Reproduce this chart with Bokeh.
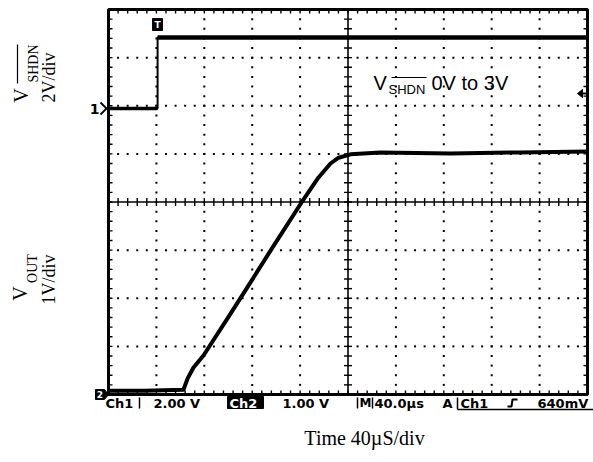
import math
from bokeh.plotting import figure
from bokeh.models import Range1d
from bokeh.embed import file_html
from bokeh.resources import INLINE
from bokeh.core.properties import value

# ---------------- data ----------------
time_per_div_us = 40
n_xdiv = 10
n_ydiv = 8
ch2_volts_per_div = 1
ch1_volts_per_div = 2

ch1_time_us = [0, 41, 41, 400]
ch1_volts = [0.0, 0.0, 2.95, 2.95]

ch2_time_us = [0, 30, 62.6, 66.0, 71.0, 79.3, 99.4, 118.6, 135.3, 161.2, 175.4, 185.4,
               192.1, 202.1, 227.1, 285.6, 344, 400]
ch2_volts = [0.08, 0.08, 0.10, 0.33, 0.56, 0.81, 1.58, 2.33, 2.99, 3.99, 4.51, 4.80,
             4.92, 4.99, 5.03, 5.01, 5.03, 5.05]

status_texts = ["Ch1", "2.00 V", "1.00 V", "40.0µs", "A", "Ch1", "640mV"]
ch2_box_text = "Ch2"
mode_text = "M"
note_main = "V"
note_sub = "SHDN"
note_rest = "0V to 3V"
left_top = ["V", "SHDN", "2V/div"]
left_bottom = ["V", "OUT", "1V/div"]
xlabel = "Time 40µS/div"

# ---------------- layout (reference-pixel geometry) ----------------
W, H = 593, 462


def cx(rx):
    return rx


def cy(ry):
    return H - ry


SCR_L, SCR_R = 108, 587     # screen left/right in reference px
SCR_T, SCR_B = 9, 394       # screen top/bottom
CH1_GND = 108               # ch1 ground marker (reference px)

t_span = time_per_div_us * n_xdiv
px_per_us = (SCR_R - SCR_L) / t_span
px_per_v2 = (SCR_B - SCR_T) / (n_ydiv * ch2_volts_per_div)
px_per_v1 = px_per_v2 * ch2_volts_per_div / ch1_volts_per_div

p = figure(width=W, height=H, output_backend="svg", toolbar_location=None,
           x_range=Range1d(0, W), y_range=Range1d(0, H), min_border=0,
           x_axis_location=None, y_axis_location=None)
p.outline_line_color = None
p.grid.visible = False
p.background_fill_color = "white"

x0c = cx(SCR_L)
p.extra_x_ranges = {"t": Range1d(-x0c / px_per_us, (W - x0c) / px_per_us)}
y0c2 = cy(SCR_B)
y0c1 = cy(CH1_GND)
p.extra_y_ranges = {
    "v2": Range1d(-y0c2 / px_per_v2, (H - y0c2) / px_per_v2),
    "v1": Range1d(-y0c1 / px_per_v1, (H - y0c1) / px_per_v1),
}
S = dict(x_range_name="t", y_range_name="v2")

# ---------------- graticule ----------------
tdiv = time_per_div_us
vdiv = ch2_volts_per_div
vmax = n_ydiv * vdiv
dots_x, dots_y = [], []
for k in range(1, n_xdiv):
    if k == n_xdiv // 2:
        continue
    for j in range(1, n_ydiv * 5):
        dots_x.append(k * tdiv)
        dots_y.append(j * vdiv / 5)
for m in range(1, n_ydiv):
    if m == n_ydiv // 2:
        continue
    for i in range(1, n_xdiv * 5):
        dots_x.append(i * tdiv / 5)
        dots_y.append(m * vdiv)
p.rect(dots_x, dots_y, width=2, height=2, width_units="screen", height_units="screen",
       fill_color="black", line_color=None, **S)

tc = t_span / 2
vc = vmax / 2
p.segment(x0=[0, tc], y0=[vc, 0], x1=[t_span, tc], y1=[vc, vmax],
          line_color="black", line_width=1.6, **S)

tick_v = 4 / px_per_v2
tick_t = 4 / px_per_us
sx0, sy0, sx1, sy1 = [], [], [], []
for i in range(1, n_xdiv * 5):
    t = i * tdiv / 5
    sx0 += [t, t, t]
    sy0 += [vc - tick_v, vmax, 0]
    sx1 += [t, t, t]
    sy1 += [vc + tick_v, vmax - tick_v, tick_v]
for j in range(1, n_ydiv * 5):
    v = j * vdiv / 5
    sx0 += [tc - tick_t, 0, t_span]
    sy0 += [v, v, v]
    sx1 += [tc + tick_t, tick_t, t_span - tick_t]
    sy1 += [v, v, v]
p.segment(x0=sx0, y0=sy0, x1=sx1, y1=sy1, line_color="black", line_width=1.4, **S)

p.quad(left=[0], right=[t_span], bottom=[0], top=[vmax], fill_color=None,
       line_color="black", line_width=3, **S)

# ---------------- traces ----------------
p.line(ch1_time_us, ch1_volts, line_color="black", line_width=2,
       x_range_name="t", y_range_name="v1")
p.line(ch1_time_us[:2], ch1_volts[:2], line_color="black", line_width=3.5,
       x_range_name="t", y_range_name="v1")
p.line(ch1_time_us[2:], ch1_volts[2:], line_color="black", line_width=4.5,
       x_range_name="t", y_range_name="v1")
p.line(ch2_time_us, ch2_volts, line_color="black", line_width=4,
       line_join="round", **S)

# ---------------- scope markers ----------------
SCOPE = value("DejaVu Sans")
# channel 1 ground marker
p.text([cx(94)], [cy(108)], text=["1"], text_font=SCOPE, text_font_size=value("14px"),
       text_font_style=value("bold"), text_align="center", text_baseline="middle",
       text_color="black")
p.line([cx(100), cx(106), cx(100)], [cy(102), cy(108), cy(114)], line_color="black", line_width=1.8)
# channel 2 ground marker
p.patch([cx(95), cx(104), cx(108), cx(104), cx(95)],
        [cy(389), cy(389), cy(394), cy(399), cy(399)], fill_color="black", line_color="black")
p.text([cx(99.5)], [cy(394)], text=["2"], text_font=SCOPE, text_font_size=value("9px"),
       text_font_style=value("bold"), text_align="center", text_baseline="middle",
       text_color="white")
# trigger position marker
p.quad(left=[cx(152)], right=[cx(162)], top=[cy(18)], bottom=[cy(30)],
       fill_color="black", line_color="black")
p.text([cx(157)], [cy(24)], text=["T"], text_font=SCOPE, text_font_size=value("9px"),
       text_font_style=value("bold"), text_align="center", text_baseline="middle",
       text_color="white")
# trigger level arrow
p.patch([cx(577), cx(582), cx(582)], [cy(93), cy(89), cy(97)], fill_color="black", line_color="black")
p.segment(x0=[cx(581)], y0=[cy(93)], x1=[cx(586)], y1=[cy(93)], line_color="black", line_width=2)

# ---------------- status bar ----------------
status_x = [105, 153, 282, 374, 442, 460, 537]
mid = cy(402.5)
p.text([cx(x) for x in status_x], [mid] * len(status_x), text=status_texts,
       text_font=SCOPE, text_font_size=value("13px"), text_font_style=value("bold"),
       text_align="left", text_baseline="middle", text_color="black")
p.quad(left=[cx(227)], right=[cx(263)], top=[cy(396)], bottom=[cy(408)],
       fill_color="black", line_color="black")
p.text([cx(229)], [mid], text=[ch2_box_text], text_font=SCOPE, text_font_size=value("13px"),
       text_font_style=value("bold"), text_align="left", text_baseline="middle",
       text_color="white")
p.text([cx(359)], [mid], text=[mode_text], text_font=SCOPE, text_font_size=value("12px"),
       text_font_style=value("bold"), text_align="left", text_baseline="middle",
       text_color="black")
p.segment(x0=[cx(139), cx(357), cx(372), cx(457), cx(457)],
          y0=[cy(397), cy(397), cy(397), cy(397), cy(409)],
          x1=[cx(139), cx(357), cx(372), cx(457), cx(593)],
          y1=[cy(408), cy(408), cy(408), cy(409), cy(409)],
          line_color="black", line_width=1.5)
p.line([cx(507), cx(511), cx(512), cx(517)], [cy(406), cy(406), cy(399), cy(399)],
       line_color="black", line_width=2)

# ---------------- annotation inside screen ----------------
SANS = value("Liberation Sans")
p.text([cx(373)], [cy(82.5)], text=[note_main], text_font=SANS, text_font_size=value("20px"),
       text_align="left", text_baseline="middle", text_color="black")
p.text([cx(388)], [cy(89)], text=[note_sub], text_font=SANS, text_font_size=value("13px"),
       text_align="left", text_baseline="middle", text_color="black")
p.segment(x0=[cx(391)], y0=[cy(77)], x1=[cx(426)], y1=[cy(77)], line_color="black", line_width=1.2)
p.text([cx(431)], [cy(82.5)], text=[note_rest], text_font=SANS, text_font_size=value("20px"),
       text_align="left", text_baseline="middle", text_color="black")

# ---------------- left rotated labels ----------------
SERIF = value("Liberation Serif")
rot = math.pi / 2
p.text([cx(20), cx(19)], [cy(95), cy(293)], text=[left_top[0], left_bottom[0]], angle=rot,
       text_font=SERIF, text_font_size=value("20px"), text_align="center",
       text_baseline="middle", text_color="black")
p.text([cx(48.5), cx(48)], [cy(77), cy(279)], text=[left_top[2], left_bottom[2]], angle=rot,
       text_font=SERIF, text_font_size=value("18px"), text_align="center",
       text_baseline="middle", text_color="black")
p.text([cx(33), cx(32)], [cy(63), cy(268)], text=[left_top[1], left_bottom[1]], angle=rot,
       text_font=SERIF, text_font_size=value("14px"), text_align="center",
       text_baseline="middle", text_color="black")
p.segment(x0=[cx(17)], y0=[cy(44)], x1=[cx(17)], y1=[cy(83)], line_color="black", line_width=1.2)

# ---------------- x label ----------------
p.text([cx(364)], [cy(437.5)], text=[xlabel], text_font=SERIF, text_font_size=value("20px"),
       text_align="center", text_baseline="middle", text_color="black")

open("out.html", "w").write(file_html(p, INLINE))
